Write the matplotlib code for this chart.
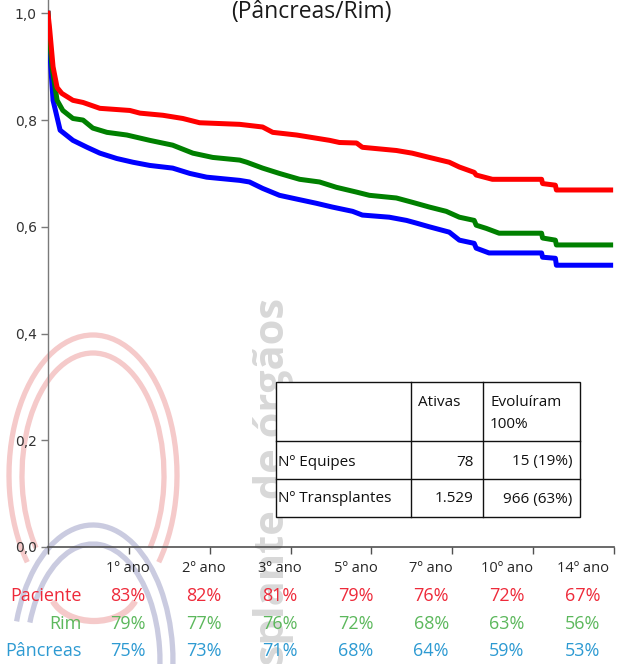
import matplotlib
matplotlib.use("Agg")
import matplotlib.pyplot as plt
from matplotlib.patches import Arc, Rectangle
from matplotlib.lines import Line2D
import numpy as np

# ---------------- data ----------------
red_t = [0, 0.5, 1.5, 2.7, 4.1, 7.4, 10.4, 15.4, 24.3, 27.3, 34.1, 40.0, 45.0, 56.9, 63.7, 66.7,
         73.8, 83.6, 86.5, 91.6, 93.3, 103.4, 108.1, 113.2, 119.1, 122.1, 126.5, 127.1, 131.9,
         146.5, 146.8, 150.6, 150.9, 167]
red_v = [1.0, 0.97, 0.90, 0.861, 0.850, 0.837, 0.833, 0.822, 0.818, 0.813, 0.809, 0.803, 0.795,
         0.792, 0.787, 0.777, 0.772, 0.762, 0.758, 0.757, 0.749, 0.743, 0.738, 0.730, 0.721,
         0.712, 0.702, 0.697, 0.689, 0.689, 0.681, 0.678, 0.669, 0.669]

green_t = [0, 0.3, 1.2, 2.7, 4.4, 7.4, 10.4, 13.3, 17.5, 23.4, 30.2, 37.0, 43.0, 48.9, 56.9, 59.0,
           63.7, 68.7, 74.7, 80.6, 85.6, 91.6, 95.4, 103.4, 108.1, 113.2, 118.2, 122.1, 126.5,
           127.1, 130.1, 133.9, 146.5, 146.8, 150.6, 150.9, 167]
green_v = [1.0, 0.963, 0.899, 0.837, 0.818, 0.803, 0.800, 0.785, 0.777, 0.772, 0.762, 0.753, 0.738,
           0.730, 0.725, 0.721, 0.710, 0.700, 0.689, 0.684, 0.674, 0.665, 0.659, 0.654, 0.646,
           0.637, 0.629, 0.618, 0.612, 0.603, 0.597, 0.588, 0.588, 0.579, 0.575, 0.566, 0.566]

blue_t = [0, 0.3, 1.5, 2.7, 3.6, 7.4, 11.6, 15.4, 20.4, 25.2, 30.2, 37.0, 42.1, 47.1, 56.9, 59.8,
          63.7, 68.7, 73.8, 79.7, 84.4, 90.4, 93.3, 101.3, 106.4, 109.3, 113.2, 119.1, 122.1,
          126.5, 127.1, 130.9, 146.5, 146.8, 150.6, 150.9, 167]
blue_v = [1.0, 0.95, 0.837, 0.805, 0.781, 0.762, 0.749, 0.738, 0.728, 0.721, 0.715, 0.710, 0.700,
          0.693, 0.687, 0.684, 0.672, 0.659, 0.652, 0.644, 0.637, 0.629, 0.622, 0.618, 0.612,
          0.607, 0.600, 0.590, 0.575, 0.569, 0.560, 0.551, 0.551, 0.543, 0.541, 0.528, 0.528]

x_ticks = [0, 24, 48, 72, 96, 120, 144, 168]
year_labels = ["1º ano", "2º ano", "3º ano", "5º ano", "7º ano", "10º ano", "14º ano"]
row_names = ["Paciente", "Rim", "Pâncreas"]
paciente_pct = [83, 82, 81, 79, 76, 72, 67]
rim_pct = [79, 77, 76, 72, 68, 63, 56]
pancreas_pct = [75, 73, 71, 68, 64, 59, 53]

y_ticks = [0.0, 0.2, 0.4, 0.6, 0.8, 1.0]
y_labels = ["0,0", "0,2", "0,4", "0,6", "0,8", "1,0"]

tbl_header = ["", "Ativas", "Evoluíram\n100%"]
tbl_row_names = ["Nº Equipes", "Nº Transplantes"]
tbl_ativas = ["78", "1.529"]
tbl_evoluiram = ["15 (19%)", "966 (63%)"]

title = "(Pâncreas/Rim)"
watermark = "Transplante de órgãos"

# ---------------- figure ----------------
W, H = 624, 664
fig = plt.figure(figsize=(W / 100, H / 100), dpi=100)
fig.patch.set_facecolor("white")
FONT = "Open Sans"

# background overlay (pixel coordinates) for watermark
bg = fig.add_axes([0, 0, 1, 1], zorder=-1)
bg.set_xlim(0, W)
bg.set_ylim(H, 0)
bg.axis("off")

red_wm = "#F5CACA"
pur_wm = "#CACBE0"
bg.add_patch(Arc((93, 475), 168, 280, theta1=127, theta2=53, lw=3.8, color=red_wm))
bg.add_patch(Arc((93, 475), 142, 244, theta1=128, theta2=52, lw=3.8, color=red_wm))
bg.add_patch(Arc((94, 590), 88, 62, theta1=15, theta2=165, lw=4.5, color=red_wm))
bg.add_patch(Arc((93, 662), 160, 274, theta1=208, theta2=60, lw=3.8, color=pur_wm))
bg.add_patch(Arc((93, 662), 134, 236, theta1=212, theta2=60, lw=3.8, color=pur_wm))
bg.text(273, 298, watermark, rotation=90, ha="center", va="top", fontsize=30,
        fontweight="bold", family=FONT, color="#D8D8D8")

# main axes
ax_left, ax_right = 48 / W, 614 / W
ax_bottom, ax_top = 1 - 547 / H, 1.0
ax = fig.add_axes([ax_left, ax_bottom, ax_right - ax_left, ax_top - ax_bottom], zorder=0)
ax.patch.set_alpha(0)
ax.set_xlim(0, 168)
ax.set_ylim(0, 1.025)

ax.plot(blue_t, blue_v, color="#0000FF", lw=3.6, zorder=3)
ax.plot(green_t, green_v, color="#008000", lw=3.6, zorder=4)
ax.plot(red_t, red_v, color="#FF0000", lw=3.6, zorder=5)

for s in ["top", "right"]:
    ax.spines[s].set_visible(False)
ax.spines["left"].set_color("#7A7A7A")
ax.spines["bottom"].set_color("#505050")
ax.spines["left"].set_linewidth(1.0)
ax.spines["bottom"].set_linewidth(1.2)
ax.set_yticks(y_ticks)
ax.set_yticklabels(y_labels, fontsize=10, color="#333333", family="DejaVu Sans")
ax.set_xticks(x_ticks)
ax.set_xticklabels([])
ax.tick_params(axis="y", length=5, width=1, color="#7A7A7A", pad=3)
ax.tick_params(axis="x", length=5, width=1, color="#505050", direction="out")

# foreground overlay
fg = fig.add_axes([0, 0, 1, 1], zorder=2)
fg.set_xlim(0, W)
fg.set_ylim(H, 0)
fg.axis("off")
fg.patch.set_alpha(0)

# title (partly cut by top edge)
fg.text(311, 18, title, ha="center", va="baseline", fontsize=16.5, family=FONT, color="#1A1A1A")

# bottom summary table
col_x = 128 + 75.8 * np.arange(len(year_labels))
for xc, lab in zip(col_x, year_labels):
    fg.text(xc, 568, lab, ha="center", va="center", fontsize=10.5,
            family=FONT, color="#262626")

row_y = [596, 624, 651]
row_colors = ["#EE2A3A", "#5CB85C", "#2D9AD2"]
for name, yy, col, vals in zip(row_names, row_y, row_colors, [paciente_pct, rim_pct, pancreas_pct]):
    fg.text(82, yy, name, ha="right", va="center", fontsize=13, family=FONT, color=col)
    for xc, v in zip(col_x, vals):
        fg.text(xc, yy, f"{v}%", ha="center", va="center", fontsize=13,
                family=FONT, color=col)

# inset table
xs = [276, 411, 483, 580]
ys = [382, 441, 479, 517]
fg.add_patch(Rectangle((xs[0], ys[0]), xs[-1] - xs[0], ys[-1] - ys[0], facecolor="white",
                       edgecolor="#111111", lw=1.0, zorder=1))
for x in xs[1:-1]:
    fg.add_line(Line2D([x, x], [ys[0], ys[-1]], color="#111111", lw=1.0, zorder=2))
for y in ys[1:-1]:
    fg.add_line(Line2D([xs[0], xs[-1]], [y, y], color="#111111", lw=1.0, zorder=2))

tf = 11
tc = "#111111"
fg.text(418, 402, tbl_header[1], ha="left", va="center", fontsize=tf, family=FONT, color=tc, zorder=3)
hdr_lines = tbl_header[2].split("\n")
fg.text(490, 402, hdr_lines[0], ha="left", va="center", fontsize=tf, family=FONT, color=tc, zorder=3)
fg.text(490, 425, hdr_lines[1], ha="left", va="center", fontsize=tf, family=FONT, color=tc, zorder=3)
for yy, nm, a, e in zip([462, 499], tbl_row_names, tbl_ativas, tbl_evoluiram):
    fg.text(278, yy, nm, ha="left", va="center", fontsize=tf, family=FONT, color=tc, zorder=3)
    fg.text(474, yy, a, ha="right", va="center", fontsize=tf, family=FONT, color=tc, zorder=3)
    fg.text(572, yy, e, ha="right", va="center", fontsize=tf, family=FONT, color=tc, zorder=3)

fig.savefig("out.png", dpi=100)
